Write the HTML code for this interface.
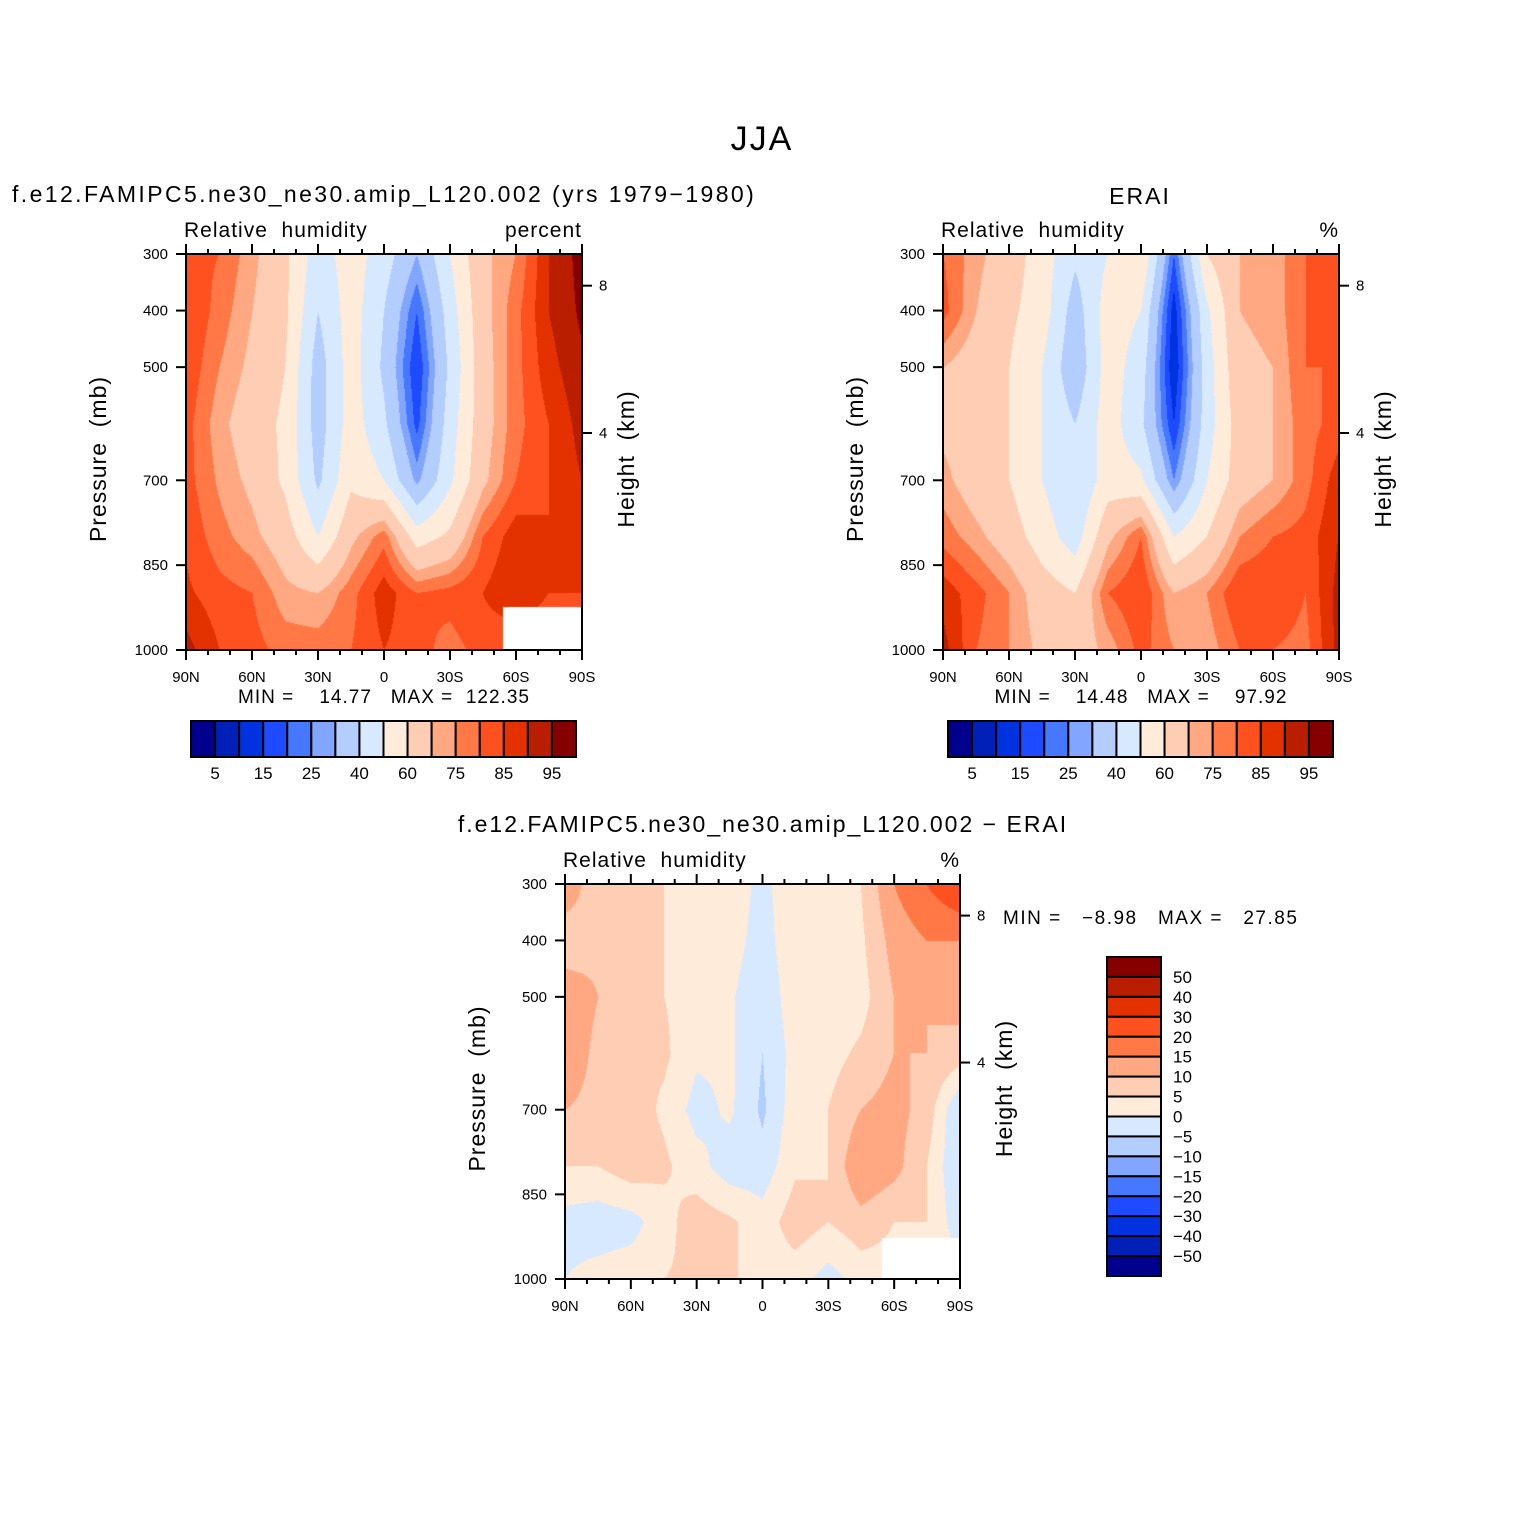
<!DOCTYPE html>
<html><head><meta charset="utf-8">
<style>
body{margin:0;background:#fff;}
#root{position:relative;width:1525px;height:1525px;overflow:hidden;background:#fff;font-family:"Liberation Sans",sans-serif;}
canvas{position:absolute;}
svg{position:absolute;left:0;top:0;}
</style></head>
<body>
<div id="root">
<canvas id="c1" width="396" height="396" style="left:186px;top:254px"></canvas>
<canvas id="c2" width="396" height="396" style="left:943px;top:254px"></canvas>
<canvas id="c3" width="395" height="395" style="left:565px;top:884px"></canvas>
<svg id="s" width="1525" height="1525"></svg>
</div>
<script>
// ---- data ----
const latLabels = ["90N","60N","30N","0","30S","60S","90S"];
const pressureLevels = [300,400,500,600,700,800,900,1000];
const pressureTicks = [300,400,500,700,850,1000];
const heightTicks = [8,4];
const absLevels = [5,10,15,20,25,30,40,50,60,70,75,80,85,90,95];
const absLabels = ["5","15","25","40","60","75","85","95"];
const diffLevels = [-50,-40,-30,-20,-15,-10,-5,0,5,10,15,20,30,40,50];
const diffLabels = ["50","40","30","20","15","10","5","0","\u22125","\u221210","\u221215","\u221220","\u221230","\u221240","\u221250"];
const palette = ["#00008c","#0020b8","#0032e0","#1e4bff","#4678ff","#82a5ff","#b4cdff","#d7e9ff","#ffebd9","#ffcdb4","#ffa882","#ff7846","#ff5020","#e33200","#b91e00","#870000"];
// columns: 90N,75N,60N,45N,30N,15N,0,15S,30S,45S,60S,75S,90S
const modelRH = [
 [82,80,72,62,45,55,45,30,50,68,75,90,97],
 [85,78,70,62,40,55,40,20,45,67,78,90,96],
 [84,75,68,60,35,55,38,15,42,66,78,88,94],
 [82,72,65,58,35,55,42,18,45,66,78,85,92],
 [82,74,68,58,38,58,50,28,48,68,80,85,90],
 [84,77,72,65,50,68,78,55,62,80,88,85,88],
 [86,82,80,72,70,78,88,80,82,85,90,85,85],
 [92,85,82,78,78,80,85,82,78,82,80,80,80]];
const eraiRH = [
 [80,72,65,55,42,50,60,20,60,70,72,80,82],
 [82,70,62,55,35,55,50,12,48,70,72,80,80],
 [70,65,60,50,32,55,45,10,45,68,70,80,80],
 [68,65,60,50,40,55,42,15,45,65,70,78,82],
 [72,65,60,50,40,55,52,25,50,65,70,78,88],
 [78,72,65,55,45,68,80,50,60,75,80,82,90],
 [88,82,75,65,60,80,85,70,75,85,85,80,92],
 [92,80,75,68,65,72,82,75,72,80,80,78,92]];
const diffRH = [
 [15,5,8,5,3,4,-2,5,2,5,15,20,25],
 [5,8,8,5,5,3,-3,5,3,4,12,15,15],
 [15,10,5,5,3,1,-5,4,2,3,10,10,12],
 [15,8,5,6,1,1,-5,2,3,6,10,10,8],
 [10,8,8,4,-2,1,-6,3,5,10,12,8,-5],
 [5,5,8,6,2,-3,-3,4,5,15,12,5,-5],
 [-2,-3,-2,3,8,6,2,8,5,8,5,5,-3],
 [0,2,3,5,6,6,2,2,-2,2,3,3,2]];

function levelIndex(v,levels){let i=0;while(i<levels.length&&v>=levels[i])i++;return i;}
function sample(grid,fx,fy){
  const nr=grid.length,nc=grid[0].length;
  let c0=Math.min(Math.floor(fx),nc-2),r0=Math.min(Math.floor(fy),nr-2);
  const tx=fx-c0,ty=fy-r0;
  const a=grid[r0][c0],b=grid[r0][c0+1],c=grid[r0+1][c0],d=grid[r0+1][c0+1];
  return (a*(1-tx)+b*tx)*(1-ty)+(c*(1-tx)+d*tx)*ty;
}
function drawField(id,grid,levels,mask){
  const cv=document.getElementById(id),ctx=cv.getContext('2d');
  const W=cv.width,H=cv.height,img=ctx.createImageData(W,H);
  const nc=grid[0].length;
  const pmin=pressureLevels[0],pmax=pressureLevels[pressureLevels.length-1];
  const rgb=palette.map(h=>[parseInt(h.substr(1,2),16),parseInt(h.substr(3,2),16),parseInt(h.substr(5,2),16)]);
  for(let y=0;y<H;y++){
    const p=pmin+(y/(H-1))*(pmax-pmin);
    let r=0;while(r<pressureLevels.length-2&&p>pressureLevels[r+1])r++;
    const fy=r+(p-pressureLevels[r])/(pressureLevels[r+1]-pressureLevels[r]);
    for(let x=0;x<W;x++){
      const fx=x/(W-1)*(nc-1);
      const v=sample(grid,fx,fy);
      let col=rgb[levelIndex(v,levels)];
      if(mask&&x>=mask[0]&&y>=mask[1])col=[255,255,255];
      const k=(y*W+x)*4;img.data[k]=col[0];img.data[k+1]=col[1];img.data[k+2]=col[2];img.data[k+3]=255;
    }
  }
  ctx.putImageData(img,0,0);
}
drawField('c1',modelRH,absLevels,[317,353]);
drawField('c2',eraiRH,absLevels,null);
drawField('c3',diffRH,diffLevels,[317,354]);

const NS='http://www.w3.org/2000/svg',svg=document.getElementById('s');
function el(tag,attrs){const e=document.createElementNS(NS,tag);for(const k in attrs)e.setAttribute(k,attrs[k]);svg.appendChild(e);return e;}
function line(x1,y1,x2,y2,name){
  const l=el('line',{x1:x1,y1:y1,x2:x2,y2:y2,stroke:'#000','stroke-width':2});
  
  
  return l;
}
function txt(x,y,s,size,anchor,name,extra){
  const t=el('text',Object.assign({x:x,y:y,'font-size':size,'text-anchor':anchor||'middle','font-family':'Liberation Sans, sans-serif',fill:'#000'},extra||{}));
  t.textContent=s;
  
  
  return t;
}
function panel(x0,y0,S,prefix,rightUnit){
  for(let lat=90;lat>=-90;lat-=10){
    const major=(lat%30===0),len=major?10:5,x=x0+(90-lat)/180*S;
    line(x,y0,x,y0-len,prefix+'-top-tick');
    line(x,y0+S,x,y0+S+len,prefix+'-bottom-tick');
  }
  for(let i=0;i<latLabels.length;i++){
    txt(x0+i*S/6,y0+S+32,latLabels[i],15,'middle',prefix+'-x-tick-label');
  }
  for(const p of pressureTicks){
    const y=y0+(p-300)/700*S;
    line(x0,y,x0-10,y,prefix+'-y-tick');
    txt(x0-18,y+5,String(p),15,'end',prefix+'-y-tick-label');
  }
  for(const h of heightTicks){
    const p=1013.25*Math.pow(1-2.25577e-5*h*1000,5.25588);
    const y=y0+(p-300)/700*S;
    line(x0+S,y,x0+S+10,y,prefix+'-height-tick');
    txt(x0+S+17,y+5,String(h),15,'start',prefix+'-height-tick-label');
  }
  const fr=el('rect',{x:x0,y:y0,width:S,height:S,fill:'none',stroke:'#000','stroke-width':2});
  
  
  const cy=y0+S/2;
  txt(x0-80,cy+7,'Pressure\u00a0\u00a0(mb)',23,'middle',prefix+'-y-axis-title',{transform:'rotate(-90 '+(x0-80)+' '+(cy+7)+')','letter-spacing':1});
  txt(x0+S+52,cy+7,'Height\u00a0\u00a0(km)',23,'middle',prefix+'-height-axis-title',{transform:'rotate(-90 '+(x0+S+52)+' '+(cy+7)+')','letter-spacing':1});
  txt(x0-2,y0-17,'Relative\u00a0\u00a0humidity',21,'start',prefix+'-variable-label',{'letter-spacing':1});
  txt(x0+S,y0-17,rightUnit,21,'end',prefix+'-units-label',{'letter-spacing':1});
}
function hbar(x0,y0,w,h,prefix){
  const n=palette.length,bw=w/n;
  palette.forEach((c,i)=>{
    const r=el('rect',{x:x0+i*bw,y:y0,width:bw,height:h,fill:c,stroke:'#000','stroke-width':2});
    
    
  });
  absLabels.forEach((l,i)=>txt(x0+(2*i+1)*bw,y0+h+22,l,17,'middle',prefix+'-colorbar-label'));
}
panel(186,254,396,'model','percent');
panel(943,254,396,'erai','%');
panel(565,884,395,'difference','%');
txt(762,150,'JJA',34,'middle','figure-title',{'letter-spacing':2});
txt(12,202,'f.e12.FAMIPC5.ne30_ne30.amip_L120.002 (yrs 1979\u22121980)',23,'start','model-panel-title',{'letter-spacing':2.4});
txt(1140,204,'ERAI',23,'middle','erai-panel-title',{'letter-spacing':2});
txt(763,832,'f.e12.FAMIPC5.ne30_ne30.amip_L120.002 \u2212 ERAI',23,'middle','difference-panel-title',{'letter-spacing':2});
txt(384,703,'MIN =\u00a0\u00a0\u00a0 14.77\u00a0\u00a0 MAX =\u00a0 122.35',19,'middle','model-min-max',{'letter-spacing':1});
txt(1141,703,'MIN =\u00a0\u00a0\u00a0 14.48\u00a0\u00a0 MAX =\u00a0\u00a0\u00a0 97.92',19,'middle','erai-min-max',{'letter-spacing':1});
txt(1003,924,'MIN =\u00a0\u00a0 \u22128.98\u00a0\u00a0 MAX =\u00a0\u00a0 27.85',19,'start','difference-min-max',{'letter-spacing':1.5});
hbar(191,721,385,36,'model');
hbar(948,721,385,36,'erai');
// vertical diff colorbar, top = darkest red
(function(){
  const x0=1107,y0=957,w=54,h=319,n=palette.length,bh=h/n;
  for(let i=0;i<n;i++){
    const r=el('rect',{x:x0,y:y0+i*bh,width:w,height:bh,fill:palette[n-1-i],stroke:'#000','stroke-width':2});
    
    
  }
  diffLabels.forEach((l,i)=>txt(x0+w+12,y0+(i+1)*bh+6,l,17,'start','difference-colorbar-label'));
})();
</script>
</body></html>
